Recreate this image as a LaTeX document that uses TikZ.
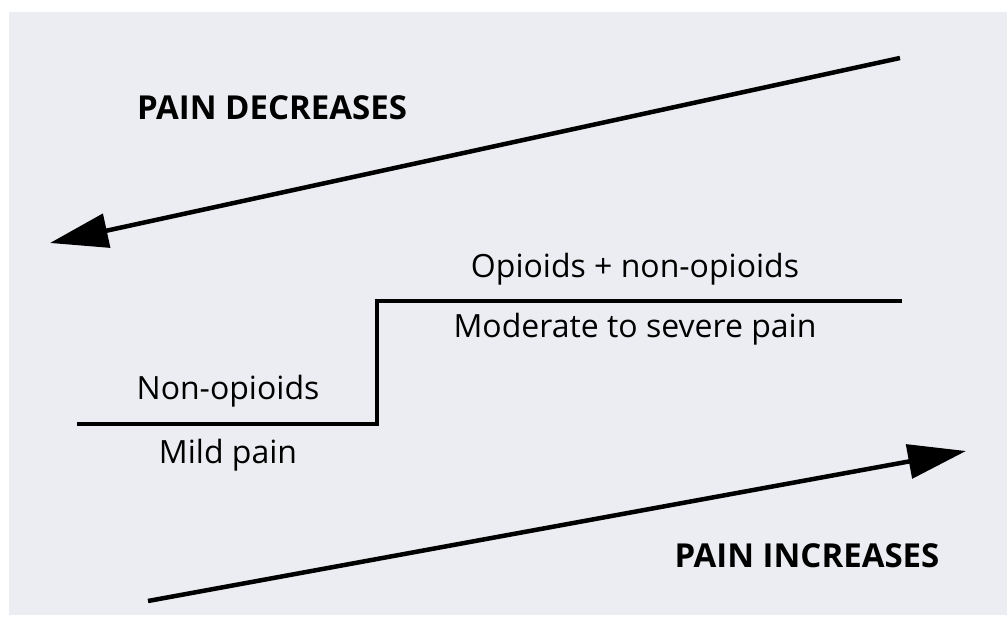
\documentclass[tikz,border=0pt]{standalone}
\usepackage{fontspec}
\setmainfont{Open Sans}
\usetikzlibrary{arrows.meta}
\definecolor{bg}{RGB}{236,237,242}
\tikzset{
  bigarrow/.style={line width=4.5pt, -{Triangle[length=58pt,width=34pt]}},
  stepline/.style={line width=4pt, line join=miter},
  heading/.style={font=\fontsize{33}{38}\selectfont\bfseries, inner sep=0pt},
  label/.style={font=\fontsize{32}{38}\selectfont, inner sep=0pt},
}
\begin{document}
\begin{tikzpicture}[x=1pt,y=-1pt]
\useasboundingbox (0,0) rectangle (1007,617);
\fill[white] (0,0) rectangle (1007,617);
\fill[bg] (9,12) rectangle (1007,615);
% arrows
\coordinate (dstart) at (900,58);
\coordinate (dend) at (50,243);
\draw[bigarrow] (dstart) -- (dend);
\coordinate (istart) at (148,601);
\coordinate (iend) at (966,451);
\draw[bigarrow] (istart) -- (iend);
% step
\coordinate (s1) at (77,424);
\coordinate (s2) at (377,424);
\coordinate (s3) at (377,301);
\coordinate (s4) at (902,301);
\draw[stepline] (s1) -- (s2) -- (s3) -- (s4);
% texts
\node[heading] (dec) at (272,108) {PAIN DECREASES};
\node[heading] (inc) at (807,556) {PAIN INCREASES};
\node[label] (oo) at (635,269) {Opioids + non-opioids};
\node[label] (msp) at (635,329) {Moderate to severe pain};
\node[label] (no) at (228,391) {Non-opioids};
\node[label] (mp) at (228,455) {Mild pain};
\end{tikzpicture}
\end{document}
